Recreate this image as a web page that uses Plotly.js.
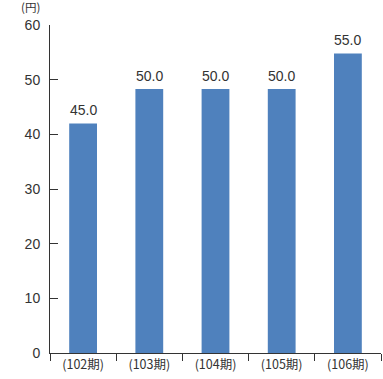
<!DOCTYPE html>
<html><head><meta charset="utf-8">
<script src="https://cdn.plot.ly/plotly-3.0.1.min.js"></script>
<style>html,body{margin:0;padding:0;background:#fff}</style>
</head><body><div id="chart" style="width:383px;height:379px"></div>
<script>
const categories = ["(102期)", "(103期)", "(104期)", "(105期)", "(106期)"];
const barValues = [42.0, 48.3, 48.3, 48.3, 54.8];
const labelTexts = ["45.0", "50.0", "50.0", "50.0", "55.0"];
const yTicks = [0, 10, 20, 30, 40, 50, 60];
const unitLabel = "(円)";

const FONT = "Liberation Sans, Arial, Noto Sans CJK JP, sans-serif";
const TXT = "#333333";

const trace = {
  type: "bar",
  x: categories,
  y: barValues,
  width: 0.42,
  marker: {color: "#4f81bd", line: {width: 0}},
  hoverinfo: "none"
};

const annotations = categories.map((c, i) => ({
  x: c, y: barValues[i], xref: "x", yref: "y",
  text: labelTexts[i], showarrow: false,
  yanchor: "bottom", yshift: 3,
  font: {family: FONT, size: 14, color: TXT}
}));
annotations.push({
  x: 0, y: 1, xref: "paper", yref: "paper",
  xanchor: "right", yanchor: "bottom", xshift: -8, yshift: 8,
  text: unitLabel, showarrow: false,
  font: {family: "Noto Sans CJK JP, sans-serif", size: 11.5, color: TXT}
});

const layout = {
  width: 383, height: 379,
  margin: {l: 50, r: 2, t: 25, b: 26},
  paper_bgcolor: "#fff", plot_bgcolor: "#fff",
  showlegend: false,
  xaxis: {
    type: "category",
    showline: true, linecolor: TXT, linewidth: 1,
    ticks: "outside", tickson: "boundaries", ticklen: 7, tickcolor: TXT, tickwidth: 1,
    showgrid: false, zeroline: false,
    tickfont: {family: "Noto Sans CJK JP, sans-serif", size: 12.5, color: TXT},
    fixedrange: true
  },
  yaxis: {
    range: [0, 60],
    tickvals: yTicks,
    showline: true, linecolor: TXT, linewidth: 1,
    ticks: "inside", ticklen: 8, tickcolor: TXT, tickwidth: 1,
    ticklabelstandoff: 6,
    showgrid: false, zeroline: false,
    tickfont: {family: FONT, size: 14, color: TXT},
    fixedrange: true
  },
  annotations: annotations
};

Plotly.newPlot("chart", [trace], layout, {displayModeBar: false, staticPlot: true});
</script></body></html>
